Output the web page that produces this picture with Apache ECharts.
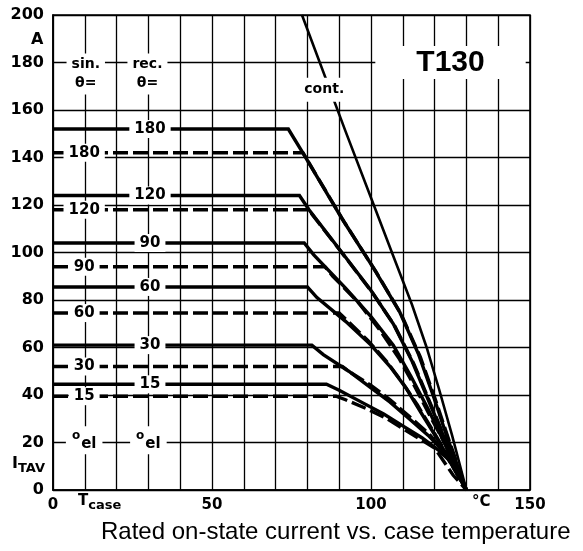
<!DOCTYPE html>
<html><head><meta charset="utf-8">
<script src="https://cdn.jsdelivr.net/npm/echarts@6/dist/echarts.min.js"></script>
<style>html,body{margin:0;padding:0;background:#fff}#c{width:583px;height:551px}</style>
</head><body><div id="c"></div>
<script>
// Case temperature (°C) vs. average on-state current I_TAV (A)
const cont   = [[78.3,200],[92,151],[100.3,122],[107,98.5],[112.9,78],[117.5,60],[121.5,42],[125.5,23],[130,0]];
const rec180 = [[0,152],[74,152],[79,141],[91,114],[101,93],[109,75],[115,57],[119.5,40],[124,22],[130,0]];
const sin180 = [[0,142],[78.6,142],[79.5,140],[91.5,113],[101.5,92],[109.5,74],[115.5,56],[120,39],[124.5,21],[130,0]];
const rec120 = [[0,124],[77.5,124],[80.5,118],[92,98],[100,84],[107,70],[113,54],[118,38],[123,22],[130,0]];
const sin120 = [[0,118],[80.5,118],[81.5,116],[92.5,97],[100.5,83],[107.5,69],[113.5,53],[118.5,37],[123.5,21],[130,0]];
const rec90  = [[0,104],[79,104],[82,99],[92,85],[100,73],[107,61],[112.5,48],[118,34],[123,20],[130,0]];
const sin90  = [[0,94],[85.5,94],[88,90],[96,79],[103,67],[109,55],[114,43],[119,30],[123.5,19],[130,0]];
const rec60  = [[0,85.5],[80,85.5],[83,81],[92,71],[100,61],[106,52],[111,43],[116,32],[122,19],[130,0]];
const sin60  = [[0,74.5],[90,74.5],[92,72],[99,63],[105,54],[110,45],[114.5,36],[119,26],[123,17],[130,0]];
const rec30  = [[0,61],[81.4,61],[85,57],[93,50],[100,43],[106,37],[112,30],[118,23],[123,16],[130,0]];
const sin30  = [[0,52],[91,52],[93,50],[100,44],[106,38],[112,31],[118,24],[123,16],[130,0]];
const rec15  = [[0,44.5],[86,44.5],[90,42],[97,37],[104,32],[110,27],[116,22],[121,17],[125,12],[130,0]];
const sin15  = [[0,39.5],[89,39.5],[92,38],[99,34],[105,30],[111,25],[116,21],[120,17.7],[125.8,6.3],[130,0]];

const recCurves = [rec180, rec120, rec90, rec60, rec30, rec15];
const sinCurves = [sin180, sin120, sin90, sin60, sin30, sin15];
const angles = ['180','120','90','60','30','15'];
const xShownLabels = ['0','50','100','150'];
const yTicks = ['0','20','40','60','80','100','120','140','160','180','200'];

const chart = echarts.init(document.getElementById('c'), null, {renderer:'canvas'});
const FONT = 'DejaVu Sans';
const black = '#000';

function lineSeries(data, dashed, width) {
  return {type:'line', data, showSymbol:false, symbol:'none', smooth:false, z:2,
    lineStyle:{color:black, width:width, type: dashed ? [15,5] : 'solid', cap:'butt', join:'miter', opacity:1},
    animation:false, silent:true};
}
const series = [];
recCurves.forEach(c => series.push(lineSeries(c, false, 3.4)));
sinCurves.forEach(c => series.push(lineSeries(c, true, 3.4)));
series.push(lineSeries(cont, false, 2.6));

function lab(t, i, text, extra) {
  return {value:[t,i], label:Object.assign({show:true, position:'inside', formatter:text,
    color:black, fontFamily:FONT, fontWeight:'bold', fontSize:15, backgroundColor:'#fff',
    opacity:1, textBorderWidth:0, padding:[2,5,1,5]}, extra||{})};
}
const labels = [];
recCurves.forEach((c,k) => labels.push(lab(30.5, c[0][1], angles[k])));
sinCurves.forEach((c,k) => labels.push(lab(9.8, c[0][1], angles[k])));
labels.push(lab(10.3, 175.2, 'sin.\nθ=', {fontSize:14, lineHeight:19, padding:[2,5,1,5]}));
labels.push(lab(29.7, 175.2, 'rec.\nθ=', {fontSize:14, lineHeight:19, padding:[2,5,1,5]}));
const oel = {formatter:'{o|o}{e|el}', backgroundColor:'#fff', padding:[4,6,3,6],
  rich:{o:{fontSize:12, fontFamily:FONT, fontWeight:'bold', color:black, verticalAlign:'top', padding:[0,1,6,0]},
        e:{fontSize:15, fontFamily:FONT, fontWeight:'bold', color:black, padding:[6,0,0,0]}}};
labels.push(lab(9.8, 21, '', oel));
labels.push(lab(30, 21, '', oel));
labels.push(lab(85.3, 168.5, 'cont.', {fontSize:14, padding:[5,4,5,4]}));
labels.push(lab(125, 180, 'T130', {fontFamily:'Liberation Sans', fontSize:30, padding:[2,41,1,41]}));

series.push({type:'scatter', data:labels, symbol:'circle', symbolSize:1, z:10,
  itemStyle:{color:'#fff', opacity:1}, animation:false, silent:true, clip:false});

chart.setOption({
  animation:false,
  backgroundColor:'#fff',
  title:{text:'Rated on-state current vs. case temperature', left:96, top:515,
    textStyle:{fontFamily:'Liberation Sans', fontSize:24, fontWeight:'normal', color:black}},
  grid:{left:53, right:53, top:15, bottom:61, show:true, borderColor:black, borderWidth:1.6, backgroundColor:'transparent'},
  xAxis:{type:'value', min:0, max:150, interval:10,
    axisLine:{lineStyle:{color:black, width:1.6}}, axisTick:{show:false},
    splitLine:{show:true, lineStyle:{color:black, width:1.3}},
    axisLabel:{color:black, fontFamily:FONT, fontWeight:'bold', fontSize:15, margin:8,
      formatter:v => xShownLabels.indexOf(String(v))>=0 ? String(v) : ''}},
  yAxis:{type:'value', min:0, max:200, interval:20,
    axisLine:{lineStyle:{color:black, width:1.6}}, axisTick:{show:false},
    splitLine:{show:true, lineStyle:{color:black, width:1.3}},
    axisLabel:{color:black, fontFamily:FONT, fontWeight:'bold', fontSize:16, margin:9,
      formatter:v => yTicks.indexOf(String(v))>=0 ? String(v) : ''}},
  graphic:[
    {type:'text', left:31, top:32, style:{text:'A', font:'bold 16px "DejaVu Sans"', fill:black}},
    {type:'text', left:12, top:456, style:{text:'{i|I}{s|TAV}', rich:{i:{font:'bold 16px "DejaVu Sans"', fill:black}, s:{font:'bold 13px "DejaVu Sans"', fill:black, padding:[10,0,0,0]}}}},
    {type:'text', left:78, top:494, style:{text:'{i|T}{s|case}', rich:{i:{font:'bold 15px "DejaVu Sans"', fill:black}, s:{font:'bold 13px "DejaVu Sans"', fill:black, padding:[8,0,0,0]}}}},
    {type:'text', left:472, top:495, style:{text:'°C', font:'bold 15px "DejaVu Sans"', fill:black}}
  ],
  series
});
</script></body></html>
